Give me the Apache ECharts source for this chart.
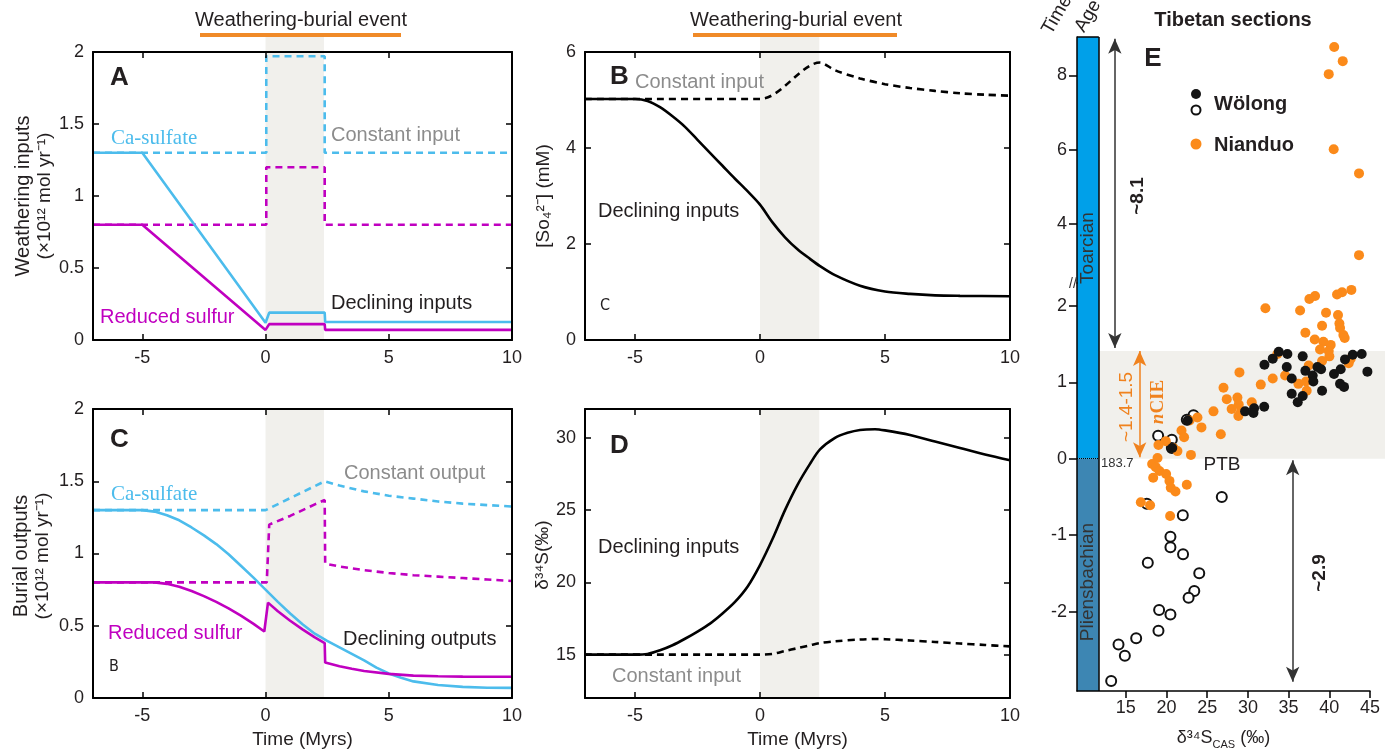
<!DOCTYPE html>
<html>
<head>
<meta charset="utf-8">
<script src="https://cdn.jsdelivr.net/npm/echarts@6/dist/echarts.min.js"></script>
<style>
  html, body { margin: 0; padding: 0; background: #fff; }
  #main { width: 1397px; height: 755px; }
</style>
</head>
<body>
<div id="main"></div>
<script>
// ---------- data ----------
const timeTicks = [-5, 0, 5, 10];
const eventSpan = [0, 2.37];

// A: weathering inputs (x10^12 mol/yr)
const aCaDecl = [[-7, 1.3], [-5, 1.3], [0, 0.12], [0.15, 0.19], [2.4, 0.19], [2.42, 0.125], [10, 0.125]];
const aRedDecl = [[-7, 0.8], [-5, 0.8], [0, 0.07], [0.15, 0.11], [2.4, 0.11], [2.42, 0.07], [10, 0.07]];
const aCaConst = [[-7, 1.3], [0.03, 1.3], [0.03, 1.97], [2.4, 1.97], [2.4, 1.3], [10, 1.3]];
const aRedConst = [[-7, 0.8], [0.03, 0.8], [0.03, 1.2], [2.4, 1.2], [2.4, 0.8], [10, 0.8]];

// B: seawater sulfate (mM)
const bDecl = [[-7, 5.02], [-5, 5.02], [-4.5, 4.98], [-4, 4.85], [-3.5, 4.66], [-3, 4.44], [-2.5, 4.17], [-2, 3.9],
  [-1.5, 3.63], [-1, 3.36], [-0.5, 3.1], [0, 2.82], [0.5, 2.45], [1, 2.14], [1.5, 1.89], [2, 1.69], [2.4, 1.54],
  [3, 1.35], [4, 1.13], [5, 1.01], [6, 0.96], [7, 0.93], [8, 0.92], [10, 0.91]];
const bConst = [[-7, 5.02], [0, 5.02], [2.4, 5.78], [3, 5.62], [4, 5.45], [5, 5.33], [6, 5.25], [7, 5.19],
  [8, 5.14], [9, 5.11], [10, 5.09]];

// C: burial outputs (x10^12 mol/yr)
const cCaDecl = [[-7, 1.3], [-5, 1.3], [-4.5, 1.29], [-4, 1.265], [-3.5, 1.23], [-3, 1.18], [-2.5, 1.125], [-2, 1.065],
  [-1.5, 0.995], [-1, 0.915], [-0.5, 0.835], [0, 0.75], [0.5, 0.665], [1, 0.585], [1.5, 0.51], [2, 0.445], [2.5, 0.395],
  [3, 0.35], [3.5, 0.305], [4, 0.26], [4.5, 0.21], [5, 0.17], [5.5, 0.14], [6, 0.115], [7, 0.09], [8, 0.077],
  [9, 0.071], [10, 0.07]];
const cRedDecl = [[-7, 0.8], [-4.5, 0.8], [-4, 0.79], [-3.5, 0.77], [-3, 0.74], [-2.5, 0.705], [-2, 0.665], [-1.5, 0.62],
  [-1, 0.57], [-0.5, 0.515], [-0.05, 0.46], [0.1, 0.66], [0.5, 0.6], [1, 0.535], [1.5, 0.475], [2, 0.42], [2.4, 0.38],
  [2.42, 0.245], [3, 0.22], [3.5, 0.202], [4, 0.187], [5, 0.167], [6, 0.155], [7, 0.15], [8, 0.148], [10, 0.147]];
const cCaConst = [[-7, 1.3], [0, 1.3], [2.4, 1.5], [3, 1.47], [4, 1.43], [5, 1.4], [6, 1.38], [7, 1.36], [8, 1.345],
  [9, 1.335], [10, 1.325]];
const cRedConst = [[-7, 0.8], [0.05, 0.8], [0.15, 1.2], [1, 1.26], [2, 1.34], [2.4, 1.37], [2.42, 0.93], [3, 0.91],
  [4, 0.885], [5, 0.865], [6, 0.85], [7, 0.84], [8, 0.83], [9, 0.82], [10, 0.81]];

// D: seawater d34S (permil)
const dDecl = [[-7, 15], [-5, 15], [-4.5, 15.05], [-4, 15.3], [-3.5, 15.65], [-3, 16.1], [-2.5, 16.6], [-2, 17.15],
  [-1.5, 17.85], [-1, 18.65], [-0.5, 19.7], [0, 21.2], [0.5, 23.0], [1, 25.0], [1.5, 26.75], [2, 28.2], [2.4, 29.2],
  [3, 30.0], [3.5, 30.35], [4, 30.55], [4.6, 30.6], [5, 30.52], [6, 30.2], [7, 29.75], [8, 29.3], [9, 28.85], [10, 28.45]];
const dConst = [[-7, 15], [0, 15], [0.5, 15.05], [1, 15.25], [1.5, 15.45], [2, 15.65], [2.4, 15.8], [3, 15.92],
  [4, 16.05], [4.6, 16.08], [5, 16.07], [6, 15.98], [7, 15.88], [8, 15.77], [9, 15.67], [10, 15.57]];

// E: Tibetan sections, [d34S_CAS, time (Myr)]
const eXTicks = [15, 20, 25, 30, 35, 40, 45];
const eYTicksLow = [-2, -1, 0, 1, 2];
const eYTicksHigh = [4, 6, 8];
const nianduo = [[40.6, 8.76], [41.65, 8.38], [39.93, 8.03], [40.54, 6.01], [43.65, 5.36], [43.65, 3.16],
  [42.71, 2.21], [41.57, 2.18], [40.95, 2.15], [38.25, 2.13], [37.55, 2.09], [32.15, 1.97], [36.41, 1.94],
  [39.6, 1.91], [41.07, 1.88], [41.24, 1.77], [41.32, 1.71], [41.73, 1.62], [41.89, 1.58], [39.11, 1.74],
  [37.06, 1.65], [38.21, 1.56], [39.27, 1.53], [40.17, 1.49], [38.86, 1.43], [39.93, 1.41], [40.01, 1.34],
  [39.11, 1.28], [37.47, 1.22], [33.62, 1.37], [42.63, 1.31], [42.38, 1.25], [28.96, 1.13], [31.58, 0.97],
  [33.05, 1.05], [34.57, 1.09], [36.2, 0.98], [37.14, 1.01], [37.22, 0.89], [27.0, 0.93], [27.4, 0.78],
  [28.71, 0.8], [28.87, 0.71], [30.47, 0.74], [28.0, 0.65], [29.16, 0.62], [28.83, 0.56], [25.77, 0.62],
  [26.67, 0.32], [23.8, 0.54], [24.29, 0.41], [22.83, 0.5], [21.84, 0.37], [22.16, 0.28], [19.91, 0.23],
  [19.01, 0.18], [20.85, 0.14], [21.34, 0.1], [23.0, 0.05], [18.89, 0.01], [18.23, -0.07], [18.68, -0.11],
  [19.13, -0.16], [18.36, -0.25], [19.95, -0.2], [20.36, -0.29], [20.52, -0.38], [21.1, -0.43], [22.49, -0.34],
  [16.84, -0.57], [17.98, -0.61], [20.44, -0.75]];
const wolongFilled = [[33.79, 1.4], [34.85, 1.37], [36.73, 1.34], [33.05, 1.31], [32.03, 1.23], [34.77, 1.2],
  [37.06, 1.15], [38.54, 1.2], [38.99, 1.17], [40.58, 1.11], [41.4, 1.17], [41.93, 1.3], [42.88, 1.36],
  [43.98, 1.37], [44.68, 1.14], [37.96, 1.09], [35.38, 1.05], [38.04, 1.01], [41.32, 0.98], [41.81, 0.94],
  [35.38, 0.85], [36.12, 0.74], [36.73, 0.82], [39.11, 0.89], [32.0, 0.68], [30.76, 0.66], [30.68, 0.6],
  [29.65, 0.62], [22.6, 0.5], [20.7, 0.14]];
const wolongOpen = [[23.31, 0.57], [22.49, 0.51], [18.97, 0.3], [20.65, 0.25], [20.65, 0.14], [17.58, -0.59],
  [26.79, -0.5], [22.0, -0.74], [20.48, -1.02], [20.48, -1.16], [22.03, -1.25], [17.7, -1.36], [24.02, -1.5],
  [23.41, -1.73], [22.71, -1.82], [19.09, -1.98], [20.48, -2.04], [19.01, -2.25], [16.27, -2.35], [14.1, -2.43],
  [14.88, -2.58], [13.2, -2.91]];
const ncieBand = [0, 1.41];   // time span of the shaded nCIE interval in panel E

// ---------- style ----------
const FONT = "'Liberation Sans', Arial, sans-serif";
const SERIF = "'Liberation Serif', 'Times New Roman', serif";
const INK = '#231f20';
const BLUE = '#4cbcec';
const MAG = '#c000c0';
const GREY_TXT = '#8c8c8c';
const BAND = '#f1f0ec';
const ORANGE = '#f08a28';
const ORANGE_DOT = '#fb8a1a';
const E_BREAK = 2.35;   // split value between the lower and upper part of panel E

const grids = [
  {left: 93, top: 52, width: 419, height: 288},    // A
  {left: 585, top: 52, width: 425, height: 288},   // B
  {left: 93, top: 409, width: 419, height: 289},   // C
  {left: 585, top: 409, width: 425, height: 289},  // D
  {left: 1077, top: 37, width: 293, height: 246},  // E upper
  {left: 1077, top: 283, width: 293, height: 412}  // E lower
];

const xAxes = [];
const yAxes = [];

function boxPanel(g, yMin, yMax, yTicks, withName) {
  const tickStyle = {color: '#000', width: 1.5};
  const lineStyle = {color: '#000', width: 2};
  const lbl = {color: INK, fontSize: 18, fontFamily: FONT};
  ['bottom', 'top'].forEach(pos => {
    const main = pos === 'bottom';
    xAxes.push({
      type: 'value', gridIndex: g, min: -7, max: 10, position: pos, z: 10,
      axisLine: {show: true, onZero: false, lineStyle},
      axisTick: {show: true, inside: true, length: 6, customValues: timeTicks, lineStyle: tickStyle},
      axisLabel: Object.assign({show: main, customValues: timeTicks, margin: 9}, lbl),
      splitLine: {show: false},
      name: main && withName ? 'Time (Myrs)' : '',
      nameLocation: 'middle', nameGap: 32,
      nameTextStyle: {color: INK, fontSize: 19, fontFamily: FONT}
    });
  });
  ['left', 'right'].forEach(pos => {
    const main = pos === 'left';
    yAxes.push({
      type: 'value', gridIndex: g, min: yMin, max: yMax, position: pos, z: 10,
      axisLine: {show: true, onZero: false, lineStyle},
      axisTick: {show: true, inside: true, length: 6, customValues: yTicks, lineStyle: tickStyle},
      axisLabel: Object.assign({show: main, customValues: yTicks, margin: 9}, lbl),
      splitLine: {show: false}
    });
  });
}

boxPanel(0, 0, 2, [0, 0.5, 1, 1.5, 2], false);
boxPanel(1, 0, 6, [0, 2, 4, 6], false);
boxPanel(2, 0, 2, [0, 0.5, 1, 1.5, 2], true);
boxPanel(3, 12, 32, [15, 20, 25, 30], true);

// panel E (broken time axis: two stacked grids)
const eLbl = {color: INK, fontSize: 18, fontFamily: FONT};
xAxes.push({type: 'value', gridIndex: 4, min: 9, max: 45, show: false});
xAxes.push({
  type: 'value', gridIndex: 5, min: 9, max: 45, z: 10,
  axisLine: {show: true, onZero: false, lineStyle: {color: '#000', width: 1.5}},
  axisTick: {show: true, inside: false, length: 7, customValues: eXTicks, lineStyle: {color: '#000', width: 1.5}},
  axisLabel: Object.assign({customValues: eXTicks, margin: 8}, eLbl),
  splitLine: {show: false},
  name: 'δ³⁴S{sub|CAS} (‰)', nameLocation: 'middle', nameGap: 36,
  nameTextStyle: {color: INK, fontSize: 18, fontFamily: FONT,
    rich: {sub: {fontSize: 11, fontFamily: FONT, color: INK, padding: [12, 0, 0, 0]}}}
});
yAxes.push({
  type: 'value', gridIndex: 4, min: 2.41, max: 9.03, z: 10,
  axisLine: {show: true, onZero: false, lineStyle: {color: '#000', width: 1.5}},
  axisTick: {show: true, inside: false, length: 8, customValues: eYTicksHigh, lineStyle: {color: '#000', width: 1.5}},
  axisLabel: Object.assign({customValues: eYTicksHigh, margin: 10}, eLbl),
  splitLine: {show: false}
});
yAxes.push({
  type: 'value', gridIndex: 5, min: -3.04, max: 2.30, z: 10,
  axisLine: {show: true, onZero: false, lineStyle: {color: '#000', width: 1.5}},
  axisTick: {show: true, inside: false, length: 8, customValues: eYTicksLow, lineStyle: {color: '#000', width: 1.5}},
  axisLabel: Object.assign({customValues: eYTicksLow, margin: 10}, eLbl),
  splitLine: {show: false}
});

// ---------- series ----------
const series = [];

function band(g) {
  series.push({
    type: 'line', xAxisIndex: 2 * g, yAxisIndex: 2 * g, data: [], z: 1, silent: true,
    markArea: {silent: true, itemStyle: {color: BAND, opacity: 1},
      data: [[{xAxis: eventSpan[0]}, {xAxis: eventSpan[1]}]]}
  });
}

function curve(g, data, color, dashed, smooth) {
  series.push({
    type: 'line', xAxisIndex: 2 * g, yAxisIndex: 2 * g, data, showSymbol: false, z: 3,
    smooth: smooth ? 0.3 : false, silent: true,
    lineStyle: {color, width: 2.6, type: dashed ? [7, 5] : 'solid'}
  });
}

[0, 1, 2, 3].forEach(band);

curve(0, aCaConst, BLUE, true);
curve(0, aRedConst, MAG, true);
curve(0, aCaDecl, BLUE, false);
curve(0, aRedDecl, MAG, false);

curve(1, bConst, '#000', true, true);
curve(1, bDecl, '#000', false, true);

curve(2, cCaConst, BLUE, true);
curve(2, cRedConst, MAG, true);
curve(2, cCaDecl, BLUE, false);
curve(2, cRedDecl, MAG, false);

curve(3, dConst, '#000', true, true);
curve(3, dDecl, '#000', false, true);

// panel E decorations: age column, nCIE band, arrows
const COL_R = 11.68;
const noLbl = {show: false};
series.push({
  type: 'scatter', xAxisIndex: 8, yAxisIndex: 8, data: [], z: 1, silent: true,
  markArea: {silent: true, data: [
    [{coord: [9, 2.41], itemStyle: {color: '#00a0e9'}}, {coord: [COL_R, 9.03]}]
  ]},
  markLine: {silent: true, symbol: 'none', label: noLbl,
    lineStyle: {color: '#000', width: 1.5, type: 'solid'},
    data: [[{coord: [COL_R, 2.41]}, {coord: [COL_R, 9.03]}], [{coord: [9, 9.03]}, {coord: [COL_R, 9.03]}]]}
});
series.push({
  type: 'scatter', xAxisIndex: 8, yAxisIndex: 8, data: [], z: 4, silent: true,
  markLine: {silent: true, symbol: ['none', 'arrow'], symbolSize: [10, 15], label: noLbl,
    lineStyle: {color: '#333', width: 1.5, type: 'solid'},
    data: [[{coord: [13.65, 2.41]}, {coord: [13.65, 8.98]}]]}
});
series.push({
  type: 'scatter', xAxisIndex: 9, yAxisIndex: 9, data: [], z: 1, silent: true,
  markArea: {silent: true, data: [
    [{coord: [9, 0], itemStyle: {color: '#00a0e9'}}, {coord: [COL_R, 2.30]}],
    [{coord: [9, -3.04], itemStyle: {color: '#3d86b3'}}, {coord: [COL_R, 0]}],
    [{coord: [COL_R, ncieBand[0]], itemStyle: {color: BAND}}, {coord: [45, ncieBand[1]]}]
  ]},
  markLine: {silent: true, symbol: 'none', label: noLbl,
    lineStyle: {color: '#000', width: 1.5, type: 'solid'},
    data: [[{coord: [COL_R, -3.04]}, {coord: [COL_R, 2.30]}],
      [{coord: [9, 0], lineStyle: {type: 'dotted', width: 1}}, {coord: [COL_R, 0]}]]}
});
series.push({
  type: 'scatter', xAxisIndex: 9, yAxisIndex: 9, data: [], z: 4, silent: true,
  markLine: {silent: true, symbol: ['none', 'arrow'], symbolSize: [10, 15], label: noLbl,
    lineStyle: {color: '#333', width: 1.5, type: 'solid'},
    data: [
      [{coord: [13.65, 2.30]}, {coord: [13.65, 1.45]}],
      [{coord: [35.5, -0.02], symbol: 'arrow'}, {coord: [35.5, -2.92]}],
      [{coord: [16.7, 1.41], symbol: 'arrow', lineStyle: {color: '#f0821e'}},
        {coord: [16.7, 0.02], lineStyle: {color: '#f0821e'}}]
    ]}
});

const upperPart = arr => arr.filter(p => p[1] >= E_BREAK);
const lowerPart = arr => arr.filter(p => p[1] < E_BREAK);

function dots(data, style, axis) {
  series.push({
    type: 'scatter', xAxisIndex: axis, yAxisIndex: axis, data, symbolSize: 10, z: 5, silent: true,
    itemStyle: Object.assign({opacity: 1}, style)
  });
}
const openStyle = {color: '#fff', borderColor: '#111', borderWidth: 2};
const blackStyle = {color: '#141414'};
const orangeStyle = {color: ORANGE_DOT};
dots(lowerPart(wolongOpen), openStyle, 9);
dots(lowerPart(nianduo), orangeStyle, 9);
dots(upperPart(nianduo), orangeStyle, 8);
dots(lowerPart(wolongFilled), blackStyle, 9);

// ---------- text annotations ----------
const graphic = [];

function txt(x, y, text, o) {
  o = o || {};
  graphic.push({
    type: 'text', x, y, rotation: o.rot || 0, z: 20, silent: true,
    style: {
      text, fill: o.color || INK,
      font: (o.weight || 'normal') + ' ' + (o.size || 20) + 'px ' + (o.family || FONT),
      align: o.align || 'left', verticalAlign: 'middle', rich: o.rich
    }
  });
}
function bar(x, y, w, h, color) {
  graphic.push({type: 'rect', shape: {x, y, width: w, height: h}, style: {fill: color}, z: 20, silent: true});
}

const UP = Math.PI / 2;
const SMALL = "'DejaVu Sans Condensed', 'Liberation Sans Narrow', sans-serif";

// event headers
txt(301, 20, 'Weathering-burial event', {align: 'center'});
bar(200, 33, 201, 4, ORANGE);
txt(796, 20, 'Weathering-burial event', {align: 'center'});
bar(693, 33, 204, 4, ORANGE);

// axis titles
txt(23, 196, 'Weathering inputs', {rot: UP, align: 'center'});
txt(45, 196, '(×10¹² mol yr⁻¹)', {rot: UP, align: 'center', size: 19});
txt(544, 196, '[So₄²⁻] (mM)', {rot: UP, align: 'center', size: 19});
txt(21, 556, 'Burial outputs', {rot: UP, align: 'center'});
txt(43, 556, '(×10¹² mol yr⁻¹)', {rot: UP, align: 'center', size: 19});
txt(543, 555, 'δ³⁴S(‰)', {rot: UP, align: 'center', size: 19});

// panel A
txt(110, 78, 'A', {weight: 'bold', size: 26});
txt(111, 138, 'Ca-sulfate', {color: BLUE, family: SERIF, size: 21});
txt(331, 135, 'Constant input', {color: GREY_TXT});
txt(331, 303, 'Declining inputs');
txt(100, 317, 'Reduced sulfur', {color: MAG});
// panel B
txt(610, 77, 'B', {weight: 'bold', size: 26});
txt(635, 82, 'Constant input', {color: GREY_TXT});
txt(598, 211, 'Declining inputs');
txt(600, 306, 'C', {family: SMALL, size: 16});
// panel C
txt(110, 440, 'C', {weight: 'bold', size: 26});
txt(111, 494, 'Ca-sulfate', {color: BLUE, family: SERIF, size: 21});
txt(344, 473, 'Constant output', {color: GREY_TXT});
txt(108, 633, 'Reduced sulfur', {color: MAG});
txt(343, 639, 'Declining outputs');
txt(109, 667, 'B', {family: SMALL, size: 16});
// panel D
txt(610, 446, 'D', {weight: 'bold', size: 26});
txt(598, 547, 'Declining inputs');
txt(612, 676, 'Constant input', {color: GREY_TXT});

// panel E
txt(1057, 15, 'Time', {rot: Math.PI / 3, align: 'center', size: 19});
txt(1088, 16, 'Age', {rot: Math.PI / 3, align: 'center', size: 19});
txt(1233, 20, 'Tibetan sections', {weight: 'bold', align: 'center'});
txt(1153, 59, 'E', {weight: 'bold', size: 26, align: 'center'});
txt(1088, 248, 'Toarcian', {rot: UP, align: 'center', size: 19, color: '#333'});
txt(1088, 582, 'Pliensbachian', {rot: UP, align: 'center', size: 19, color: '#333'});
txt(1073, 284, '//', {align: 'center', size: 14, color: '#333'});
txt(1138, 196, '~8.1', {rot: UP, align: 'center', weight: 'bold', size: 19});
txt(1320, 573, '~2.9', {rot: UP, align: 'center', weight: 'bold', size: 19});
txt(1127, 407, '~1.4-1.5', {rot: UP, align: 'center', size: 19, color: '#f0821e'});
txt(1158, 402, '{i|n}CIE', {rot: UP, align: 'center', size: 19, color: '#f0821e', family: SERIF, weight: 'bold',
  rich: {i: {fontStyle: 'italic', fontWeight: 'bold', fontSize: 19, fontFamily: SERIF, fill: '#f0821e', color: '#f0821e'}}});
txt(1101, 463, '183.7', {size: 13, color: '#333'});
txt(1222, 465, 'PTB', {align: 'center', size: 19});
// legend
graphic.push({type: 'circle', shape: {cx: 1196, cy: 94, r: 5}, style: {fill: '#141414'}, z: 20});
graphic.push({type: 'circle', shape: {cx: 1196, cy: 110, r: 4.5}, style: {fill: '#fff', stroke: '#111', lineWidth: 2}, z: 20});
txt(1214, 104, 'Wölong', {weight: 'bold'});
graphic.push({type: 'circle', shape: {cx: 1196, cy: 144, r: 5.5}, style: {fill: ORANGE_DOT}, z: 20});
txt(1214, 145, 'Nianduo', {weight: 'bold'});

// ---------- render ----------
const chart = echarts.init(document.getElementById('main'), null, {renderer: 'canvas'});
const option = {
  animation: false,
  backgroundColor: '#fff',
  grid: grids.map(g => Object.assign({containLabel: false}, g)),
  xAxis: xAxes,
  yAxis: yAxes,
  series,
  graphic
};
chart.setOption(option);

// the event band of A and B continues up to the header bar
const extra = [0, 1].map(g => {
  const p0 = chart.convertToPixel({gridIndex: g}, [eventSpan[0], 2 * (g === 0 ? 1 : 3)]);
  const p1 = chart.convertToPixel({gridIndex: g}, [eventSpan[1], 0]);
  return {type: 'rect', shape: {x: p0[0], y: 37, width: p1[0] - p0[0], height: p0[1] - 37},
    style: {fill: BAND}, z: 0, silent: true};
});
// the nCIE band of E runs a little past the end of the x axis
const q0 = chart.convertToPixel({gridIndex: 5}, [45, ncieBand[1]]);
const q1 = chart.convertToPixel({gridIndex: 5}, [45, ncieBand[0]]);
extra.push({type: 'rect', shape: {x: q0[0], y: q0[1], width: 15, height: q1[1] - q0[1]},
  style: {fill: BAND}, z: 0, silent: true});
option.graphic = graphic.concat(extra);
chart.setOption(option, true);
</script>
</body>
</html>
